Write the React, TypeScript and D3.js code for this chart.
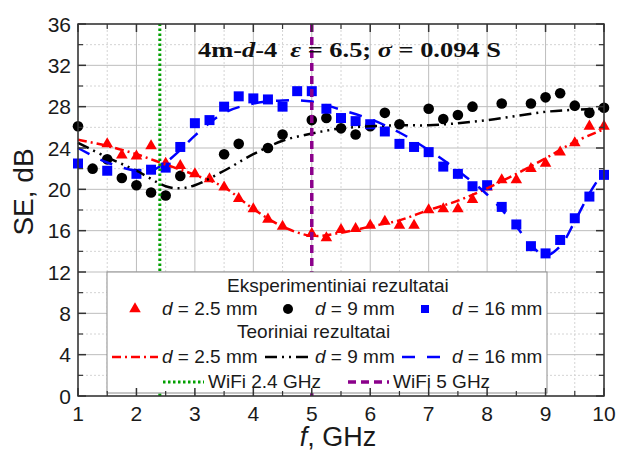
import React from "react";
import * as d3 from "d3";

// axis ticks
const xTicks = [1, 2, 3, 4, 5, 6, 7, 8, 9, 10];
const yTicks = [0, 4, 8, 12, 16, 20, 24, 28, 32, 36];

// experimental points [f GHz, SE dB]
const exp25: [number, number][] = [
  [1.5, 24.4], [1.75, 23.3], [2.0, 23.2], [2.25, 24.2], [2.5, 22.5], [2.75, 22.3],
  [3.0, 21.5], [3.25, 21.0], [3.5, 20.2], [3.75, 19.1], [4.0, 18.1], [4.25, 17.1],
  [4.5, 16.4], [5.0, 15.7], [5.25, 15.3], [5.5, 16.1], [5.75, 16.2], [6.0, 16.5],
  [6.25, 16.9], [6.5, 16.5], [6.75, 16.5], [7.0, 18.0], [7.25, 18.1], [7.5, 18.1],
  [7.75, 19.0], [8.0, 20.2], [8.25, 20.9], [8.5, 20.9], [8.75, 22.0], [9.0, 22.5],
  [9.25, 23.6], [9.5, 24.5], [9.75, 26.1], [10.0, 26.1],
];
const exp9: [number, number][] = [
  [1.0, 26.1], [1.25, 22.0], [1.5, 22.9], [1.75, 21.1], [2.0, 20.4], [2.25, 19.7],
  [2.5, 19.4], [2.75, 21.3], [3.5, 23.4], [3.75, 24.4], [4.25, 24.0], [4.5, 25.3],
  [5.0, 26.7], [5.25, 26.9], [5.5, 25.9], [5.75, 25.3], [6.0, 26.1], [6.25, 27.4],
  [6.5, 26.3], [7.0, 27.8], [7.25, 26.8], [7.5, 27.2], [7.75, 28.0], [8.25, 28.3],
  [8.75, 28.3], [9.0, 28.9], [9.25, 29.3], [9.5, 28.1], [9.75, 27.4], [10.0, 27.9],
];
const exp16: [number, number][] = [
  [1.0, 22.5], [1.5, 21.8], [2.0, 21.5], [2.25, 21.9], [2.5, 22.1], [2.75, 24.1],
  [3.0, 26.4], [3.25, 26.7], [3.5, 28.0], [3.75, 29.0], [4.0, 28.8], [4.25, 28.7],
  [4.5, 28.0], [4.75, 29.5], [5.0, 29.5], [5.25, 27.8], [5.5, 26.9], [5.75, 26.6],
  [6.0, 26.3], [6.25, 25.6], [6.5, 24.4], [6.75, 24.1], [7.0, 23.6], [7.25, 22.2],
  [7.5, 21.5], [7.75, 20.3], [8.0, 20.4], [8.25, 18.3], [8.5, 16.6], [8.75, 14.5],
  [9.0, 13.8], [9.25, 15.1], [9.5, 17.2], [9.75, 19.3], [10.0, 21.4],
];

// theoretical curves
const th25: [number, number][] = [
  [1.0, 24.8], [1.5, 24.2], [2.0, 23.4], [2.5, 22.4], [3.0, 21.4], [3.5, 20.2],
  [4.0, 18.1], [4.5, 16.4], [5.0, 15.5], [5.5, 15.8], [6.0, 16.4], [6.5, 17.0],
  [7.0, 18.0], [7.5, 18.9], [8.0, 20.1], [8.5, 21.5], [9.0, 23.0], [9.5, 24.6],
  [10.0, 25.8],
];
const th9: [number, number][] = [
  [1.0, 24.5], [1.5, 23.1], [2.0, 21.8], [2.5, 20.3], [2.75, 20.1], [3.0, 20.4],
  [3.5, 21.8], [4.0, 23.4], [4.5, 24.7], [5.0, 25.4], [5.5, 25.9], [6.0, 26.1],
  [6.5, 26.2], [7.0, 26.2], [7.5, 26.4], [8.0, 26.7], [8.5, 27.1], [9.0, 27.5],
  [9.5, 27.7], [10.0, 27.8],
];
const th16: [number, number][] = [
  [1.0, 24.0], [1.5, 22.6], [2.0, 21.8], [2.25, 21.8], [2.5, 22.6], [2.75, 23.8],
  [3.0, 25.2], [3.5, 27.4], [4.0, 28.3], [4.5, 28.6], [5.0, 28.5], [5.5, 27.7],
  [6.0, 26.8], [6.5, 25.5], [7.0, 23.8], [7.5, 21.8], [8.0, 19.5], [8.5, 16.4],
  [8.75, 14.6], [9.0, 13.6], [9.25, 14.5], [9.5, 16.9], [9.75, 19.6], [10.0, 21.8],
];

const wifiLines = [2.4, 5];

const W = 617;
const H = 450;
const sans = "'Liberation Sans', Arial, sans-serif";
const serif = "'Liberation Serif', 'Times New Roman', serif";

const RED = "#ff0000";
const BLUE = "#0000ff";
const GREEN = "#00a000";
const PURPLE = "#8b008b";

const App = () => {
  const x = d3.scaleLinear().domain([1, 10]).range([78, 604]);
  const y = d3.scaleLinear().domain([0, 36]).range([396, 24]);
  const [x0, x1] = x.range();
  const [y0, y1] = y.range();

  const line = d3
    .line<[number, number]>()
    .x((d) => x(d[0]))
    .y((d) => y(d[1]))
    .curve(d3.curveCatmullRom);

  const tri = d3.symbol(d3.symbolTriangle, 58)();
  const sq = d3.symbol(d3.symbolSquare, 100)();

  const xMinor = d3.range(1.5, 10, 1);
  const yMinor = d3.range(2, 36, 4);

  const lineStyles = {
    r: { stroke: RED, dash: "9,4,2,4" },
    k: { stroke: "#000", dash: "12,5,2,5,2,5" },
    b: { stroke: BLUE, dash: "13,12" },
  };

  return (
    <svg
      width={W}
      height={H}
      style={{ position: "absolute", left: 0, top: 0, background: "#fff" }}
    >
      {/* grid */}
      {xMinor.map((t) => (
        <line key={"xm" + t} x1={x(t)} x2={x(t)} y1={y0} y2={y1} stroke="#d4d4d4" strokeDasharray="2,2" />
      ))}
      {yMinor.map((t) => (
        <line key={"ym" + t} x1={x0} x2={x1} y1={y(t)} y2={y(t)} stroke="#d4d4d4" strokeDasharray="2,2" />
      ))}
      {xTicks.map((t) => (
        <line key={"xg" + t} x1={x(t)} x2={x(t)} y1={y0} y2={y1} stroke="#bdbdbd" />
      ))}
      {yTicks.map((t) => (
        <line key={"yg" + t} x1={x0} x2={x1} y1={y(t)} y2={y(t)} stroke="#bdbdbd" />
      ))}

      {/* experimental markers */}
      {exp25.map((d, i) => (
        <path key={"t" + i} d={tri!} transform={`translate(${x(d[0])},${y(d[1])})`} fill={RED} />
      ))}
      {exp9.map((d, i) => (
        <circle key={"c" + i} cx={x(d[0])} cy={y(d[1])} r={5.3} fill="#000" />
      ))}
      {exp16.map((d, i) => (
        <path key={"s" + i} d={sq!} transform={`translate(${x(d[0])},${y(d[1])})`} fill={BLUE} />
      ))}

      {/* theoretical lines */}
      <path d={line(th25)!} fill="none" stroke={lineStyles.r.stroke} strokeWidth={2.5} strokeDasharray={lineStyles.r.dash} />
      <path d={line(th9)!} fill="none" stroke={lineStyles.k.stroke} strokeWidth={2.5} strokeDasharray={lineStyles.k.dash} />
      <path d={line(th16)!} fill="none" stroke={lineStyles.b.stroke} strokeWidth={2.5} strokeDasharray={lineStyles.b.dash} />

      {/* WiFi markers */}
      <line x1={x(wifiLines[0])} x2={x(wifiLines[0])} y1={y0} y2={y1} stroke={GREEN} strokeWidth={3} strokeDasharray="2.5,2.5" />
      <line x1={x(wifiLines[1])} x2={x(wifiLines[1])} y1={y0} y2={y1} stroke={PURPLE} strokeWidth={3.5} strokeDasharray="8,5" />

      {/* title */}
      <text
        transform="translate(198,57) scale(1.2,1)"
        fontFamily={serif}
        fontWeight="bold"
        fontSize={22}
        xmlSpace="preserve"
        fill="#111"
      >
        4m-<tspan fontStyle="italic">d</tspan>-4  <tspan fontStyle="italic">ε</tspan> = 6.5; <tspan fontStyle="italic">σ</tspan> = 0.094 S
      </text>

      {/* legend */}
      <g fontFamily={sans} fontSize={19} fill="#1a1a1a">
        <rect x={107} y={272} width={440} height={121} fill="#fff" stroke="#8c8c8c" strokeWidth={1} />
        <text x={227} y={292}>Eksperimentiniai rezultatai</text>
        <path d={tri!} transform="translate(135,309)" fill={RED} />
        <circle cx={288} cy={309} r={5} fill="#000" />
        <path d={sq!} transform="translate(425,309) scale(0.8)" fill={BLUE} />
        <text x={162} y={315}><tspan fontStyle="italic">d</tspan> = 2.5 mm</text>
        <text x={315} y={315}><tspan fontStyle="italic">d</tspan> = 9 mm</text>
        <text x={452} y={315}><tspan fontStyle="italic">d</tspan> = 16 mm</text>
        <text x={237} y={338}>Teoriniai rezultatai</text>
        <line x1={112} x2={158} y1={357} y2={357} stroke={RED} strokeWidth={2.5} strokeDasharray={lineStyles.r.dash} />
        <line x1={265} x2={311} y1={357} y2={357} stroke="#000" strokeWidth={2.5} strokeDasharray={lineStyles.k.dash} />
        <line x1={402} x2={441} y1={357} y2={357} stroke={BLUE} strokeWidth={2.5} strokeDasharray={lineStyles.b.dash} />
        <text x={162} y={363}><tspan fontStyle="italic">d</tspan> = 2.5 mm</text>
        <text x={315} y={363}><tspan fontStyle="italic">d</tspan> = 9 mm</text>
        <text x={452} y={363}><tspan fontStyle="italic">d</tspan> = 16 mm</text>
        <line x1={163} x2={204} y1={382} y2={382} stroke={GREEN} strokeWidth={3} strokeDasharray="2.5,2.5" />
        <text x={208} y={388}>WiFi 2.4 GHz</text>
        <line x1={348} x2={389} y1={382} y2={382} stroke={PURPLE} strokeWidth={3.5} strokeDasharray="8,5" />
        <text x={393} y={388}>WiFi 5 GHz</text>
      </g>

      {/* frame and ticks */}
      <rect x={x0} y={y1} width={x1 - x0} height={y0 - y1} fill="none" stroke="#333" strokeWidth={1.5} />
      {xTicks.map((t) => (
        <g key={"xt" + t}>
          <line x1={x(t)} x2={x(t)} y1={y0} y2={y0 - 8} stroke="#333" strokeWidth={1.5} />
          <line x1={x(t)} x2={x(t)} y1={y1} y2={y1 + 8} stroke="#333" strokeWidth={1.5} />
        </g>
      ))}
      {xMinor.map((t) => (
        <g key={"xmt" + t}>
          <line x1={x(t)} x2={x(t)} y1={y0} y2={y0 - 5} stroke="#333" strokeWidth={1.2} />
          <line x1={x(t)} x2={x(t)} y1={y1} y2={y1 + 5} stroke="#333" strokeWidth={1.2} />
        </g>
      ))}
      {yTicks.map((t) => (
        <g key={"yt" + t}>
          <line x1={x0} x2={x0 + 8} y1={y(t)} y2={y(t)} stroke="#333" strokeWidth={1.5} />
          <line x1={x1} x2={x1 - 8} y1={y(t)} y2={y(t)} stroke="#333" strokeWidth={1.5} />
        </g>
      ))}
      {yMinor.map((t) => (
        <g key={"ymt" + t}>
          <line x1={x0} x2={x0 + 5} y1={y(t)} y2={y(t)} stroke="#333" strokeWidth={1.2} />
          <line x1={x1} x2={x1 - 5} y1={y(t)} y2={y(t)} stroke="#333" strokeWidth={1.2} />
        </g>
      ))}

      {/* tick labels */}
      <g fontFamily={sans} fontSize={21} fill="#1a1a1a">
        {xTicks.map((t) => (
          <text key={"xl" + t} x={x(t)} y={421} textAnchor="middle">{t}</text>
        ))}
        {yTicks.map((t) => (
          <text key={"yl" + t} x={71} y={y(t) + 7.5} textAnchor="end">{t}</text>
        ))}
      </g>

      {/* axis titles */}
      <text x={338} y={446} textAnchor="middle" fontFamily={sans} fontSize={27} fill="#1a1a1a">
        <tspan fontStyle="italic">f</tspan>, GHz
      </text>
      <text transform="translate(33,192) rotate(-90)" textAnchor="middle" fontFamily={sans} fontSize={28} fill="#1a1a1a">
        SE, dB
      </text>
    </svg>
  );
};

export default App;
